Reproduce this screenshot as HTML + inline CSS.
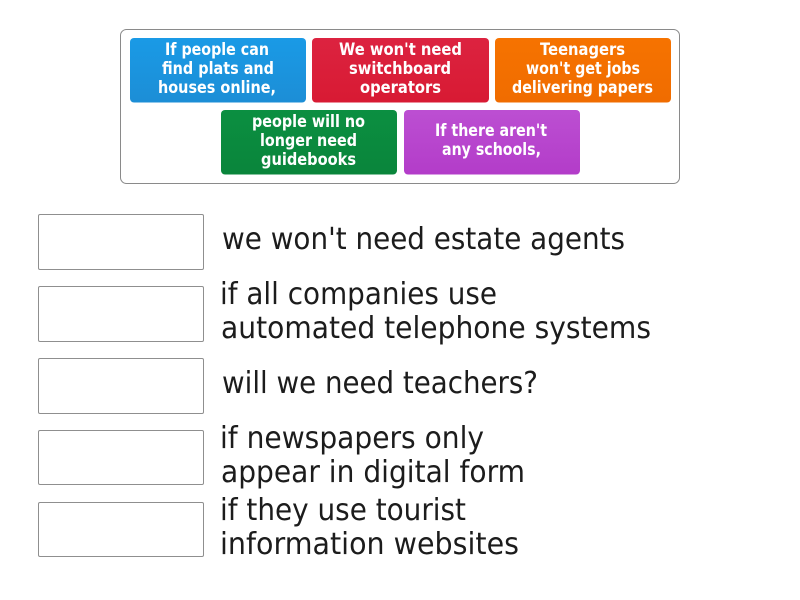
<!DOCTYPE html>
<html lang="en">
<head>
<meta charset="utf-8">
<title>Match the sentence halves</title>
<style>
html,body{margin:0;padding:0;background:#fff;width:800px;height:600px;overflow:hidden}
svg{display:block}
.t{font-family:"DejaVu Sans","Liberation Sans",sans-serif;font-weight:bold;font-size:17px;fill:#fff;text-anchor:middle}
.a{font-family:"DejaVu Sans","Liberation Sans",sans-serif;font-size:30px;fill:#1c1c1c}
</style>
</head>
<body>
<svg width="800" height="600" viewBox="0 0 800 600" xmlns="http://www.w3.org/2000/svg">
<defs>
<linearGradient id="b" x1="0" y1="0" x2="0" y2="1"><stop offset="0" stop-color="#1a9ae6"/><stop offset="1" stop-color="#1c8ed6"/></linearGradient>
<linearGradient id="r" x1="0" y1="0" x2="0" y2="1"><stop offset="0" stop-color="#dc2340"/><stop offset="1" stop-color="#d81a33"/></linearGradient>
<linearGradient id="o" x1="0" y1="0" x2="0" y2="1"><stop offset="0" stop-color="#f67300"/><stop offset="1" stop-color="#f06c00"/></linearGradient>
<linearGradient id="g" x1="0" y1="0" x2="0" y2="1"><stop offset="0" stop-color="#0b8f41"/><stop offset="1" stop-color="#0a853b"/></linearGradient>
<linearGradient id="p" x1="0" y1="0" x2="0" y2="1"><stop offset="0" stop-color="#bc4fd2"/><stop offset="1" stop-color="#b33cc9"/></linearGradient>
</defs>

<rect x="120.5" y="29.5" width="559" height="154" rx="6" fill="#fff" stroke="#8a8a8a"/>

<rect x="130" y="38" width="176" height="64.5" rx="4" fill="url(#b)"/>
<rect x="312" y="38" width="177" height="64.5" rx="4" fill="url(#r)"/>
<rect x="495" y="38" width="176" height="64.5" rx="4" fill="url(#o)"/>
<rect x="221" y="110" width="176" height="64.5" rx="4" fill="url(#g)"/>
<rect x="404" y="110" width="176" height="64.5" rx="4" fill="url(#p)"/>

<text class="t" x="217" y="55" textLength="104" lengthAdjust="spacingAndGlyphs">If people can</text>
<text class="t" x="218" y="74" textLength="112" lengthAdjust="spacingAndGlyphs">find plats and</text>
<text class="t" x="217" y="93" textLength="118" lengthAdjust="spacingAndGlyphs">houses online,</text>

<text class="t" x="400.5" y="55" textLength="123" lengthAdjust="spacingAndGlyphs">We won't need</text>
<text class="t" x="400" y="74" textLength="102" lengthAdjust="spacingAndGlyphs">switchboard</text>
<text class="t" x="400.5" y="93" textLength="81" lengthAdjust="spacingAndGlyphs">operators</text>

<text class="t" x="582.5" y="55" textLength="85" lengthAdjust="spacingAndGlyphs">Teenagers</text>
<text class="t" x="583" y="74" textLength="114" lengthAdjust="spacingAndGlyphs">won't get jobs</text>
<text class="t" x="582.5" y="93" textLength="141" lengthAdjust="spacingAndGlyphs">delivering papers</text>

<text class="t" x="308.5" y="127" textLength="113" lengthAdjust="spacingAndGlyphs">people will no</text>
<text class="t" x="308.5" y="146" textLength="97" lengthAdjust="spacingAndGlyphs">longer need</text>
<text class="t" x="308.5" y="165" textLength="95" lengthAdjust="spacingAndGlyphs">guidebooks</text>

<text class="t" x="491" y="136" textLength="112" lengthAdjust="spacingAndGlyphs">If there aren't</text>
<text class="t" x="491.5" y="155" textLength="99" lengthAdjust="spacingAndGlyphs">any schools,</text>

<g fill="#fff" stroke="#8f8f8f">
<rect x="38.5" y="214.5" width="165" height="55" rx="1.5"/>
<rect x="38.5" y="286.5" width="165" height="55" rx="1.5"/>
<rect x="38.5" y="358.5" width="165" height="55" rx="1.5"/>
<rect x="38.5" y="430.5" width="165" height="54" rx="1.5"/>
<rect x="38.5" y="502.5" width="165" height="54" rx="1.5"/>
</g>

<text class="a" x="222" y="249" textLength="403" lengthAdjust="spacingAndGlyphs">we won't need estate agents</text>
<text class="a" x="220" y="304" textLength="277" lengthAdjust="spacingAndGlyphs">if all companies use</text>
<text class="a" x="221" y="338" textLength="430" lengthAdjust="spacingAndGlyphs">automated telephone systems</text>
<text class="a" x="222" y="393" textLength="316" lengthAdjust="spacingAndGlyphs">will we need teachers?</text>
<text class="a" x="220" y="448" textLength="264" lengthAdjust="spacingAndGlyphs">if newspapers only</text>
<text class="a" x="221" y="482" textLength="304" lengthAdjust="spacingAndGlyphs">appear in digital form</text>
<text class="a" x="220" y="520" textLength="246" lengthAdjust="spacingAndGlyphs">if they use tourist</text>
<text class="a" x="220" y="554" textLength="299" lengthAdjust="spacingAndGlyphs">information websites</text>
</svg>
</body>
</html>
